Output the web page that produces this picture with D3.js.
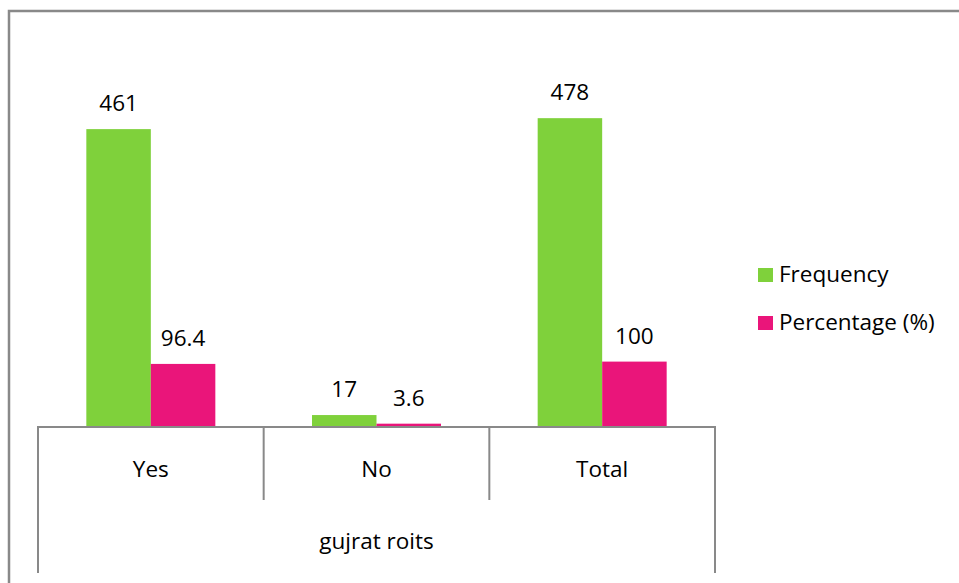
<!DOCTYPE html>
<html>
<head>
<meta charset="utf-8">
<script src="https://cdn.jsdelivr.net/npm/d3@7"></script>
<style>
  html, body { margin: 0; padding: 0; background: #fff; }
  svg { display: block; font-family: "Open Sans", sans-serif; }
</style>
</head>
<body>
<svg id="chart" width="959" height="583"></svg>
<script>
// Survey responses: gujrat roits
const categories = ["Yes", "No", "Total"];
const seriesNames = ["Frequency", "Percentage (%)"];
const frequency = [461, 17, 478];
const percentage = [96.4, 3.6, 100];
const valueLabels = [["461", "17", "478"], ["96.4", "3.6", "100"]];
const groupTitle = "gujrat roits";
const colors = ["#7FD13B", "#EA157A"];

const seriesValues = [frequency, percentage];
const rows = categories.map((c, i) => ({
  category: c,
  values: seriesNames.map((s, j) => ({ series: s, value: seriesValues[j][i], label: valueLabels[j][i], idx: j }))
}));

const svg = d3.select("#chart");
const gridColor = "#898989";
const fontSize = 22.5;

// outer frame (runs off the right and bottom edges)
svg.append("rect")
  .attr("x", 9).attr("y", 11)
  .attr("width", 1000).attr("height", 1000)
  .attr("fill", "none")
  .attr("stroke", gridColor)
  .attr("stroke-width", 2.5);

const plotLeft = 38, plotRight = 715, baseY = 426;

const x0 = d3.scaleBand().domain(categories).range([plotLeft, plotRight]).paddingInner(0).paddingOuter(0);
const groupPad = (x0.bandwidth() - 129) / 2;
const x1 = d3.scaleBand().domain(seriesNames).range([groupPad, x0.bandwidth() - groupPad]).padding(0);
const y = d3.scaleLinear().domain([0, 500]).range([baseY, 104]);
const color = d3.scaleOrdinal().domain(seriesNames).range(colors);

const groups = svg.append("g").selectAll("g")
  .data(rows).join("g")
  .attr("transform", d => `translate(${x0(d.category)},0)`);

groups.selectAll("rect")
  .data(d => d.values).join("rect")
  .attr("x", d => x1(d.series))
  .attr("y", d => y(d.value))
  .attr("width", x1.bandwidth())
  .attr("height", d => y(0) - y(d.value))
  .attr("fill", d => color(d.series));

groups.selectAll("text")
  .data(d => d.values).join("text")
  .attr("x", d => x1(d.series) + x1.bandwidth() / 2)
  .attr("y", d => y(d.value) - 18)
  .attr("text-anchor", "middle")
  .attr("font-size", fontSize)
  .attr("fill", "#000")
  .text(d => d.label);

// category axis drawn as a table
const axis = svg.append("g").attr("stroke", gridColor).attr("stroke-width", 2);
axis.append("line")
  .attr("x1", plotLeft).attr("x2", plotRight)
  .attr("y1", baseY + 1).attr("y2", baseY + 1);
const bounds = categories.map(c => x0(c)).concat([plotRight]);
bounds.forEach((bx, i) => {
  const outer = i === 0 || i === bounds.length - 1;
  axis.append("line")
    .attr("x1", bx).attr("x2", bx)
    .attr("y1", baseY).attr("y2", outer ? 573 : 500);
});

svg.append("g").selectAll("text")
  .data(categories).join("text")
  .attr("x", d => x0(d) + x0.bandwidth() / 2)
  .attr("y", 477)
  .attr("text-anchor", "middle")
  .attr("font-size", fontSize)
  .attr("fill", "#000")
  .text(d => d);

svg.append("text")
  .attr("x", (plotLeft + plotRight) / 2)
  .attr("y", 549)
  .attr("text-anchor", "middle")
  .attr("font-size", fontSize)
  .attr("fill", "#000")
  .text(groupTitle);

// legend
const legend = svg.append("g").selectAll("g")
  .data(seriesNames).join("g")
  .attr("transform", (d, i) => `translate(758,${268 + i * 48})`);
legend.append("rect")
  .attr("width", 15).attr("height", 14)
  .attr("fill", d => color(d));
legend.append("text")
  .attr("x", 21).attr("y", 14)
  .attr("font-size", fontSize)
  .attr("fill", "#000")
  .text(d => d);
</script>
</body>
</html>
